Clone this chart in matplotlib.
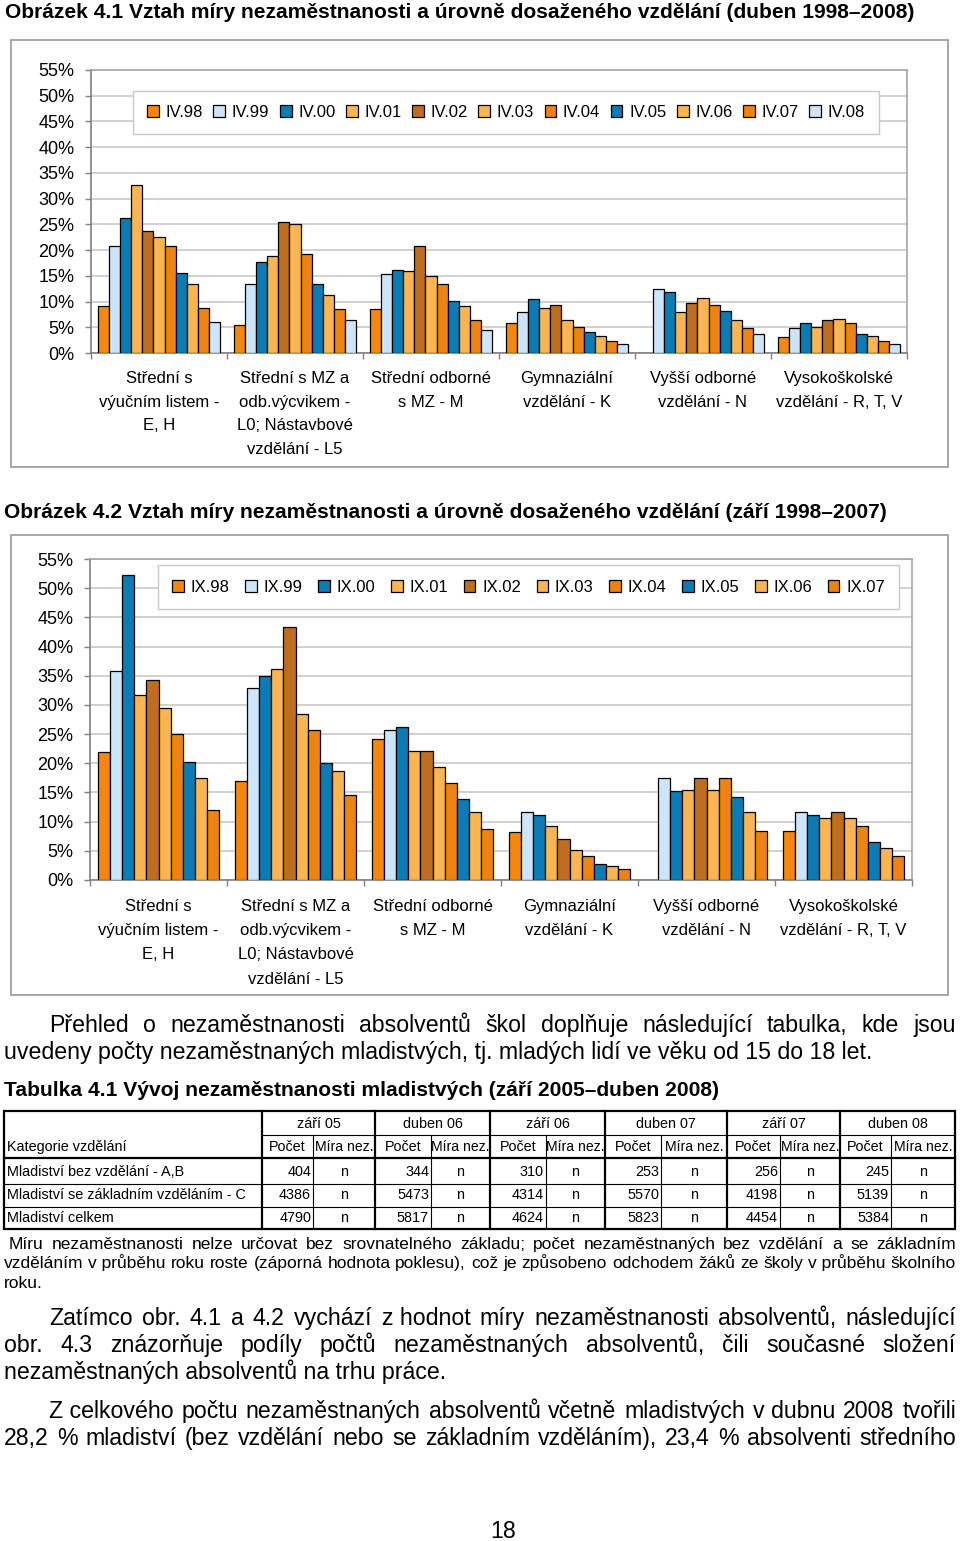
import numpy as np
import matplotlib
matplotlib.use('Agg')
import matplotlib.pyplot as plt
from matplotlib.lines import Line2D
from matplotlib.patches import Rectangle

W, H = 960, 1541
FONT = ['Liberation Sans', 'DejaVu Sans']
plt.rcParams['font.family'] = FONT

# ---------------- data ----------------
categories = ["Střední s\nvýučním listem -\nE, H",
              "Střední s MZ a\nodb.výcvikem -\nL0; Nástavbové\nvzdělání - L5",
              "Střední odborné\ns MZ - M",
              "Gymnaziální\nvzdělání - K",
              "Vyšší odborné\nvzdělání - N",
              "Vysokoškolské\nvzdělání - R, T, V"]
ytick_values = [0, 5, 10, 15, 20, 25, 30, 35, 40, 45, 50, 55]
ytick_labels = ['0%', '5%', '10%', '15%', '20%', '25%', '30%', '35%', '40%', '45%', '50%', '55%']

series_apr = ['IV.98', 'IV.99', 'IV.00', 'IV.01', 'IV.02', 'IV.03',
              'IV.04', 'IV.05', 'IV.06', 'IV.07', 'IV.08']
apr98 = [9.1, 5.5, 8.6, 5.8, np.nan, 3.1]
apr99 = [20.8, 13.4, 15.3, 7.9, 12.5, 4.9]
apr00 = [26.3, 17.7, 16.2, 10.4, 11.9, 5.8]
apr01 = [32.7, 18.9, 15.9, 8.8, 7.9, 5.1]
apr02 = [23.8, 25.4, 20.8, 9.4, 9.7, 6.4]
apr03 = [22.6, 25.1, 14.9, 6.4, 10.6, 6.7]
apr04 = [20.8, 19.3, 13.4, 5.1, 9.4, 5.8]
apr05 = [15.5, 13.4, 10.1, 4.0, 8.2, 3.6]
apr06 = [13.4, 11.3, 9.1, 3.3, 6.4, 3.3]
apr07 = [8.8, 8.6, 6.4, 2.3, 4.9, 2.3]
apr08 = [6.0, 6.4, 4.5, 1.75, 3.6, 1.75]
apr_values = [apr98, apr99, apr00, apr01, apr02, apr03, apr04, apr05, apr06, apr07, apr08]

series_sep = ['IX.98', 'IX.99', 'IX.00', 'IX.01', 'IX.02', 'IX.03',
              'IX.04', 'IX.05', 'IX.06', 'IX.07']
sep98 = [21.9, 17.0, 24.1, 8.2, np.nan, 8.4]
sep99 = [35.8, 32.9, 25.7, 11.7, 17.4, 11.7]
sep00 = [52.3, 35.0, 26.3, 11.2, 15.3, 11.2]
sep01 = [31.7, 36.2, 22.1, 9.3, 15.5, 10.6]
sep02 = [34.2, 43.3, 22.1, 7.1, 17.4, 11.7]
sep03 = [29.5, 28.5, 19.4, 5.1, 15.5, 10.6]
sep04 = [25.1, 25.7, 16.7, 4.1, 17.4, 9.3]
sep05 = [20.2, 20.0, 13.9, 2.7, 14.2, 6.5]
sep06 = [17.4, 18.6, 11.7, 2.4, 11.7, 5.4]
sep07 = [12.0, 14.5, 8.7, 1.8, 8.4, 4.1]
sep_values = [sep98, sep99, sep00, sep01, sep02, sep03, sep04, sep05, sep06, sep07]

table_periods = ['září 05', 'duben 06', 'září 06', 'duben 07', 'září 07', 'duben 08']
table_rows = ['Mladiství bez vzdělání - A,B',
              'Mladiství se základním vzděláním - C',
              'Mladiství celkem']
count_bez = [404, 344, 310, 253, 256, 245]
count_zakl = [4386, 5473, 4314, 5570, 4198, 5139]
count_celkem = [4790, 5817, 4624, 5823, 4454, 5384]
rate_marks = ['n', 'n', 'n', 'n', 'n', 'n']

# ---------------- styles ----------------
ORANGE = '#F5870C'
ORANGE2 = '#EF8312'
LBLUE = '#CDE5F8'
BLUE = '#0B7CB6'
LORANGE = '#FAB551'
BROWN = '#BF6D1F'
apr_colors = [ORANGE, LBLUE, BLUE, LORANGE, BROWN, LORANGE, ORANGE2, BLUE, LORANGE, ORANGE2, LBLUE]
sep_colors = [ORANGE, LBLUE, BLUE, LORANGE, BROWN, LORANGE, ORANGE2, BLUE, LORANGE, ORANGE2]

fig = plt.figure(figsize=(W / 100, H / 100), dpi=100)
fig.patch.set_facecolor('white')

page = fig.add_axes([0, 0, 1, 1])
page.set_xlim(0, W)
page.set_ylim(H, 0)
page.axis('off')
renderer = fig.canvas.get_renderer()


def text_width(s, size, weight='normal'):
    t = page.text(0, 0, s, fontsize=size, fontweight=weight)
    w = t.get_window_extent(renderer).width
    t.remove()
    return w


def fit_size(s, target, weight='normal'):
    return 20.0 * target / text_width(s, 20.0, weight)


def base(y, size):
    # baseline from visual line centre
    return y + 0.30 * size * 100 / 72


def line(x, y, s, size, weight='normal', ha='left'):
    page.text(x, base(y, size), s, fontsize=size, fontweight=weight, va='baseline', ha=ha)


def justify(s, x0, x1, y, size, weight='normal'):
    words = s.split(' ')
    words = [w.replace('~', '\u00a0') for w in words]
    widths = [text_width(w, size, weight) for w in words]
    gap = (x1 - x0 - sum(widths)) / max(len(words) - 1, 1)
    x = x0
    for w, wd in zip(words, widths):
        page.text(x, base(y, size), w, fontsize=size, fontweight=weight, va='baseline', ha='left')
        x += wd + gap


def px_axes(left, top, right, bottom):
    return fig.add_axes([left / W, 1 - bottom / H, (right - left) / W, (bottom - top) / H])


def draw_chart(ax, values, names, colors, bar_w, legend_box, lab_pad, linesp):
    n = len(values)
    x = np.arange(len(categories))
    for i, (vals, name, col) in enumerate(zip(values, names, colors)):
        ax.bar(x + (i - (n - 1) / 2) * bar_w, vals, width=bar_w, color=col,
               edgecolor='black', linewidth=0.9, label=name, zorder=3)
    ax.set_xlim(-0.5, len(categories) - 0.5)
    ax.set_ylim(0, 55)
    ax.set_yticks(ytick_values)
    ax.set_yticklabels(ytick_labels, fontsize=13)
    ax.set_xticks(x)
    ax.set_xticklabels(categories, fontsize=12, linespacing=linesp)
    ax.set_xticks(np.arange(len(categories) + 1) - 0.5, minor=True)
    ax.tick_params(axis='x', which='major', length=0, pad=lab_pad)
    ax.tick_params(axis='x', which='minor', length=4, width=1, color='#808080')
    ax.tick_params(axis='y', length=4, width=1, color='#808080', pad=8)
    ax.grid(axis='y', color='#C4C4C4', linewidth=1.1, zorder=0)
    ax.set_axisbelow(True)
    for s in ['left', 'bottom']:
        ax.spines[s].set_color('#7F7F7F')
        ax.spines[s].set_linewidth(1.2)
    for s in ['top', 'right']:
        ax.spines[s].set_color('#A6A6A6')
        ax.spines[s].set_linewidth(1.2)
    l, t, r, b = legend_box
    leg = ax.legend(loc='center', ncol=n, mode='expand',
                    bbox_to_anchor=(l / W, 1 - b / H, (r - l) / W, (b - t) / H),
                    bbox_transform=fig.transFigure, fontsize=12, frameon=True,
                    fancybox=False, edgecolor='#C8C8C8', framealpha=1,
                    handlelength=0.7, handleheight=0.7, handletextpad=0.4,
                    borderpad=0.85, borderaxespad=0, columnspacing=0.5)
    leg.get_frame().set_linewidth(1.0)


# ---------------- chart 1 ----------------
page.add_patch(Rectangle((11, 40), 937, 427, fill=False, edgecolor='#A0A0A0', linewidth=1.3))
title1 = 'Obrázek 4.1 Vztah míry nezaměstnanosti a úrovně dosaženého vzdělání (duben 1998–2008)'
page.text(5, 12, title1, fontsize=fit_size(title1, 907, 'bold'), fontweight='bold', va='center', ha='left')
ax1 = px_axes(91, 70, 907, 353)
draw_chart(ax1, apr_values, series_apr, apr_colors, 0.081, (133, 92, 879, 133), 13, 1.72)

# ---------------- chart 2 ----------------
page.add_patch(Rectangle((11, 535), 937, 460, fill=False, edgecolor='#A0A0A0', linewidth=1.3))
title2 = 'Obrázek 4.2 Vztah míry nezaměstnanosti a úrovně dosaženého vzdělání (září 1998–2007)'
page.text(4, 512, title2, fontsize=fit_size(title2, 882, 'bold'), fontweight='bold', va='center', ha='left')
ax2 = px_axes(90, 559, 912, 880)
draw_chart(ax2, sep_values, series_sep, sep_colors, 0.0877, (158, 566, 899, 608), 13.5, 1.78)

# ---------------- body text ----------------
p1_last = 'uvedeny počty nezaměstnaných mladistvých, tj. mladých lidí ve věku od 15 do 18 let.'
BODY = fit_size(p1_last, 867)
justify('Přehled o nezaměstnanosti absolventů škol doplňuje následující tabulka, kde jsou', 49, 956, 1025, BODY)
line(4, 1052, p1_last, BODY)

ttl = 'Tabulka 4.1 Vývoj nezaměstnanosti mladistvých (září 2005–duben 2008)'
page.text(4, 1090, ttl, fontsize=fit_size(ttl, 715, 'bold'), fontweight='bold', va='center', ha='left')

# ---------------- table ----------------
TS = fit_size('Mladiství se základním vzděláním - C', 239)
group_edges = [262, 375, 490, 605, 727, 840, 955]
sub_edges = [313, 431, 546, 661, 780, 891]
T_TOP, T_H1, T_H2, T_BOT = 1111, 1135, 1158, 1229
row_centers = [1172, 1195, 1218]

def hline(y, x0, x1, lw):
    page.add_line(Line2D([x0, x1], [y, y], color='black', linewidth=lw))

def vline(x, y0, y1, lw):
    page.add_line(Line2D([x, x], [y0, y1], color='black', linewidth=lw))

page.add_patch(Rectangle((4, T_TOP), 951, T_BOT - T_TOP, fill=False, edgecolor='black', linewidth=1.6))
hline(T_H1, 262, 955, 0.8)
hline(T_H2, 4, 955, 1.6)
hline(1184, 4, 955, 0.8)
hline(1207, 4, 955, 0.8)
for xg in group_edges[:-1]:
    vline(xg, T_TOP, T_BOT, 1.6)
for xs in sub_edges:
    vline(xs, T_H1, T_BOT, 0.8)

line(7, 1147, 'Kategorie vzdělání', TS)
for gi, period in enumerate(table_periods):
    g0, g1, sx = group_edges[gi], group_edges[gi + 1], sub_edges[gi]
    line((g0 + g1) / 2, 1124, period, TS, ha='center')
    line((g0 + sx) / 2, 1147, 'Počet', TS, ha='center')
    line((sx + g1) / 2, 1147, 'Míra nez.', TS * 0.97, ha='center')
    for ri, counts in enumerate([count_bez, count_zakl, count_celkem]):
        line(sx - 2, row_centers[ri], str(counts[gi]), TS, ha='right')
        line((sx + g1) / 2, row_centers[ri], rate_marks[gi], TS, ha='center')
for ri, lab in enumerate(table_rows):
    line(7, row_centers[ri], lab, TS)

# ---------------- footnote ----------------
fn2 = 'vzděláním v~průběhu roku roste (záporná hodnota poklesu), což je způsobeno odchodem žáků ze školy v~průběhu školního'
FN = fit_size(fn2.replace('~', ' '), 942)
justify('Míru nezaměstnanosti nelze určovat bez srovnatelného základu; počet nezaměstnaných bez vzdělání a se základním',
        9, 956, 1244, FN)
justify(fn2, 4, 956, 1263, FN)
line(4, 1283, 'roku.', FN)

# ---------------- paragraphs ----------------
justify('Zatímco obr. 4.1 a 4.2 vychází z~hodnot míry nezaměstnanosti absolventů, následující', 49, 956, 1318, BODY)
justify('obr. 4.3 znázorňuje podíly počtů nezaměstnaných absolventů, čili současné složení', 4, 956, 1345, BODY)
line(4, 1372, 'nezaměstnaných absolventů na trhu práce.', BODY)
justify('Z~celkového počtu nezaměstnaných absolventů včetně mladistvých v~dubnu 2008 tvořili', 49, 956, 1411, BODY)
justify('28,2 % mladiství (bez vzdělání nebo se základním vzděláním), 23,4 % absolventi středního', 4, 956, 1438, BODY)

line(503, 1531, '18', BODY, ha='center')

fig.savefig('out.png', dpi=100, facecolor='white')
